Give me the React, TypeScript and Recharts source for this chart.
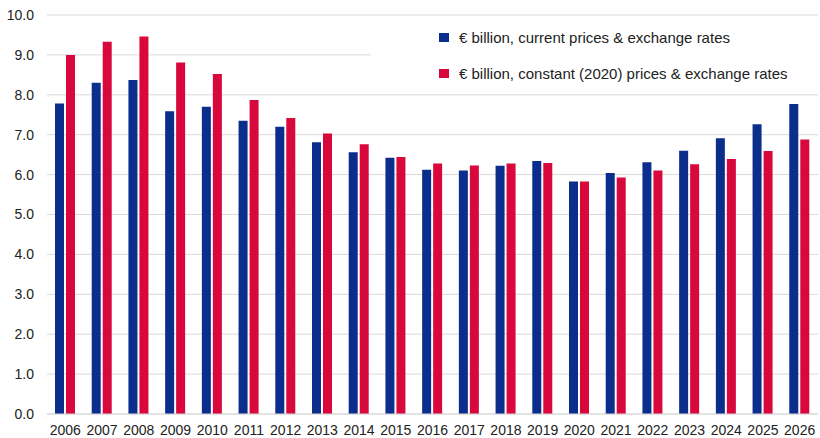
import { BarChart, Bar, XAxis, YAxis, CartesianGrid, Legend } from "recharts";

const years = [
  "2006", "2007", "2008", "2009", "2010", "2011", "2012", "2013", "2014", "2015", "2016",
  "2017", "2018", "2019", "2020", "2021", "2022", "2023", "2024", "2025", "2026",
];
const currentPrices = [
  7.78, 8.3, 8.37, 7.59, 7.7, 7.35, 7.2, 6.81, 6.56, 6.42, 6.12,
  6.1, 6.22, 6.34, 5.83, 6.04, 6.31, 6.6, 6.91, 7.26, 7.77,
];
const constantPrices = [
  9.0, 9.33, 9.46, 8.81, 8.52, 7.87, 7.42, 7.03, 6.76, 6.44, 6.28,
  6.23, 6.28, 6.29, 5.83, 5.93, 6.1, 6.26, 6.39, 6.59, 6.88,
];
const yTicks = [0, 1, 2, 3, 4, 5, 6, 7, 8, 9, 10];

const BLUE = "#0B2D8C";
const RED = "#D8073C";
const FONT = "'Liberation Sans', Arial, sans-serif";

const data = years.map((year, i) => ({
  year,
  current: currentPrices[i],
  constant: constantPrices[i],
}));

const legendItems = [
  { label: "€ billion, current prices & exchange rates", color: BLUE },
  { label: "€ billion, constant (2020) prices & exchange rates", color: RED },
];

function LegendBox() {
  return (
    <div
      style={{
        background: "#fff",
        width: "100%",
        height: "100%",
        paddingTop: 12,
        boxSizing: "border-box",
      }}
    >
      {legendItems.map((item) => (
        <div
          key={item.label}
          style={{
            display: "flex",
            alignItems: "center",
            height: 17,
            marginBottom: 19,
            marginLeft: 68,
            fontFamily: FONT,
            fontSize: 15,
            color: "#222",
          }}
        >
          <span
            style={{
              display: "inline-block",
              width: 10,
              height: 9,
              background: item.color,
              marginRight: 10,
            }}
          />
          {item.label}
        </div>
      ))}
    </div>
  );
}

export default function App() {
  return (
    <div style={{ position: "absolute", left: 0, top: 0, background: "#fff" }}>
      <BarChart
        width={820}
        height={438}
        data={data}
        margin={{ top: 15, right: 2, bottom: 0, left: 0 }}
        barSize={9}
        barGap={2}
      >
        <CartesianGrid vertical={false} stroke="#d9d9d9" />
        <XAxis
          dataKey="year"
          height={24}
          tickSize={0}
          tickMargin={11}
          axisLine={{ stroke: "#d9d9d9" }}
          interval={0}
          tick={{ fill: "#222", fontSize: 14, fontFamily: FONT }}
        />
        <YAxis
          width={47}
          domain={[0, 10]}
          ticks={yTicks}
          tickSize={0}
          tickMargin={13}
          axisLine={false}
          tickFormatter={(v: number) => v.toFixed(1)}
          tick={{ fill: "#222", fontSize: 14, fontFamily: FONT }}
        />
        <Legend
          layout="horizontal"
          verticalAlign="middle"
          align="center"
          wrapperStyle={{ position: "absolute", left: 371, top: 17, width: 447, height: 77 }}
          content={() => <LegendBox />}
        />
        <Bar dataKey="current" fill={BLUE} isAnimationActive={false} />
        <Bar dataKey="constant" fill={RED} isAnimationActive={false} />
      </BarChart>
    </div>
  );
}
